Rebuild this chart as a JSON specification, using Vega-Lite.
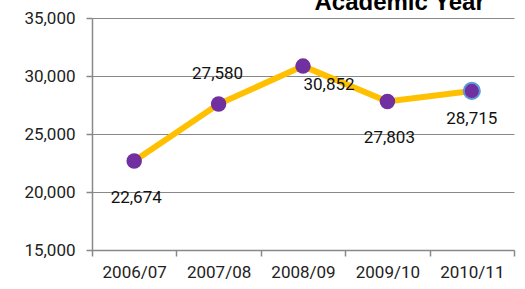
{
  "$schema": "https://vega.github.io/schema/vega-lite/v6.json",
  "autosize": {"type": "none"},
  "width": 422,
  "height": 232,
  "padding": {"left": 92, "top": 18, "right": 11, "bottom": 39},
  "background": "white",
  "data": {"values": [
    {"year": "2006/07", "value": 22674, "pos": "below"},
    {"year": "2007/08", "value": 27580, "pos": "above"},
    {"year": "2008/09", "value": 30852, "pos": "right"},
    {"year": "2009/10", "value": 27803, "pos": "below"},
    {"year": "2010/11", "value": 28715, "pos": "below2"}
  ]},
  "config": {
    "view": {"stroke": null},
    "axis": {"labelFont": "Roboto", "labelFontSize": 17, "labelColor": "#222", "domainColor": "#888", "tickColor": "#888", "gridColor": "#888", "domainWidth": 1.5, "tickWidth": 1.5, "gridWidth": 1.2, "title": null}
  },
  "encoding": {
    "x": {"field": "year", "type": "nominal", "sort": null, "scale": {"paddingInner": 0, "paddingOuter": 0}, "axis": {"labelAngle": 0, "tickBand": "extent", "tickSize": 6, "labelPadding": 8, "grid": false}},
    "y": {"field": "value", "type": "quantitative", "scale": {"domain": [15000, 35000], "nice": false, "zero": false}, "axis": {"values": [15000, 20000, 25000, 30000, 35000], "format": ",.0f", "tickSize": 6, "labelPadding": 11, "grid": true}}
  },
  "layer": [
    {"mark": {"type": "line", "color": "#FFC000", "strokeWidth": 6}},
    {"mark": {"type": "point", "filled": true, "color": "#7030A0", "size": 240, "opacity": 1}},
    {"transform": [{"filter": "datum.year == '2010/11'"}], "mark": {"type": "point", "filled": false, "stroke": "#5B9BD5", "strokeWidth": 2, "size": 260, "opacity": 1}},
    {"transform": [{"filter": "datum.pos == 'below'"}], "mark": {"type": "text", "font": "Roboto", "fontSize": 17, "color": "#111", "dy": 37, "dx": 2}, "encoding": {"text": {"field": "value", "format": ",.0f"}}},
    {"transform": [{"filter": "datum.pos == 'below2'"}], "mark": {"type": "text", "font": "Roboto", "fontSize": 17, "color": "#111", "dy": 28, "dx": 0}, "encoding": {"text": {"field": "value", "format": ",.0f"}}},
    {"transform": [{"filter": "datum.pos == 'above'"}], "mark": {"type": "text", "font": "Roboto", "fontSize": 17, "color": "#111", "dy": -30, "dx": -1}, "encoding": {"text": {"field": "value", "format": ",.0f"}}},
    {"transform": [{"filter": "datum.pos == 'right'"}], "mark": {"type": "text", "font": "Roboto", "fontSize": 17, "color": "#111", "dy": 19, "dx": 26}, "encoding": {"text": {"field": "value", "format": ",.0f"}}},
    {"data": {"values": [{"label": "Academic Year", "year": "2010/11", "value": 35000}]}, "mark": {"type": "text", "font": "Liberation Sans", "fontSize": 24, "fontWeight": "bold", "color": "black", "align": "right", "baseline": "alphabetic", "dx": 13, "dy": -8}, "encoding": {"text": {"field": "label"}}}
  ]
}
